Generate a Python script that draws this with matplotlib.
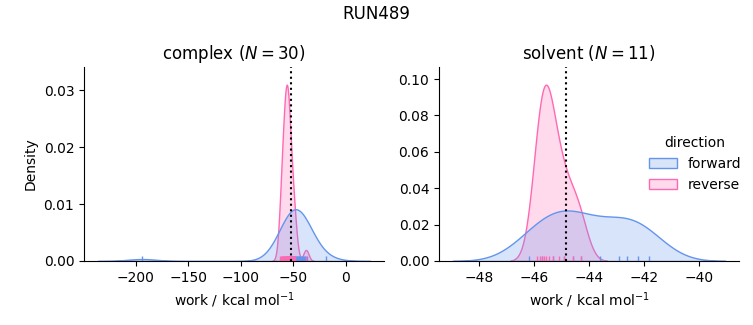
import numpy as np
import pandas as pd
import matplotlib
matplotlib.use("Agg")
import matplotlib.pyplot as plt
import seaborn as sns

# ---- data (work values, kcal/mol) ----
complex_forward = [-194.0, -19.0,
                   -57.0, -56.0, -55.0, -54.0, -53.0, -52.5, -52.0, -51.5, -51.0, -50.5,
                   -50.0, -49.5, -49.0, -48.5, -48.0, -47.5, -47.0, -46.5, -46.0, -45.0,
                   -44.5, -44.0, -43.0, -42.0, -41.0, -40.0, -38.5, -37.0]
complex_reverse = [-62.5, -62.0, -61.0, -60.5, -60.0, -59.5, -59.0, -58.5, -58.0, -57.5,
                   -57.0, -57.0, -56.5, -56.5, -56.0, -56.0, -55.5, -55.0, -55.0, -54.5,
                   -54.0, -53.5, -53.0, -52.5, -52.0, -51.0, -50.0, -49.0, -48.0, -38.0]
solvent_forward = [-46.2, -45.7, -45.3, -44.9, -44.6, -44.3, -43.6, -42.9, -42.6, -42.2, -41.8]
solvent_reverse = [-45.9, -45.8, -45.7, -45.62, -45.55, -45.45, -45.3, -45.1, -44.9, -44.6, -44.3]
phases = ["complex", "solvent"]
n_counts = [30, 11]
dg_lines = [-52.5, -44.85]
suptitle = "RUN489"

frames = []
for phase, fwd, rev in [("complex", complex_forward, complex_reverse),
                        ("solvent", solvent_forward, solvent_reverse)]:
    frames.append(pd.DataFrame({"work": fwd, "direction": "forward", "phase": phase}))
    frames.append(pd.DataFrame({"work": rev, "direction": "reverse", "phase": phase}))
df = pd.concat(frames, ignore_index=True)

palette = {"forward": "cornflowerblue", "reverse": "hotpink"}

g = sns.displot(data=df, x="work", hue="direction", col="phase", kind="kde",
                fill=True, rug=True, palette=palette,
                facet_kws=dict(sharex=False, sharey=False), height=3, aspect=1.2)

fig = g.figure
fig.set_size_inches(7.53, 3.25)
fig.set_dpi(100)

W, H = 753.0, 325.0
ax0, ax1 = g.axes.flat
ax0.set_position([84 / W, (H - 261) / H, 300 / W, 194 / H])
ax1.set_position([439 / W, (H - 261) / H, 300 / W, 194 / H])

for ax, phase, n, dg in zip([ax0, ax1], phases, n_counts, dg_lines):
    ax.set_title(f"{phase} ($N={n}$)", fontsize=12)
    ax.axvline(dg, color="k", ls=":", lw=1.5)
    ax.set_xlabel("work / kcal mol$^{-1}$")
ax0.set_ylabel("Density")
ax1.set_ylabel("")
ax1.tick_params(labelleft=True)

sns.move_legend(g, loc="center left", bbox_to_anchor=(0.845, 0.495), frameon=False)

fig.suptitle(suptitle, fontsize=12, y=0.985)
fig.savefig("out.png", dpi=100)
